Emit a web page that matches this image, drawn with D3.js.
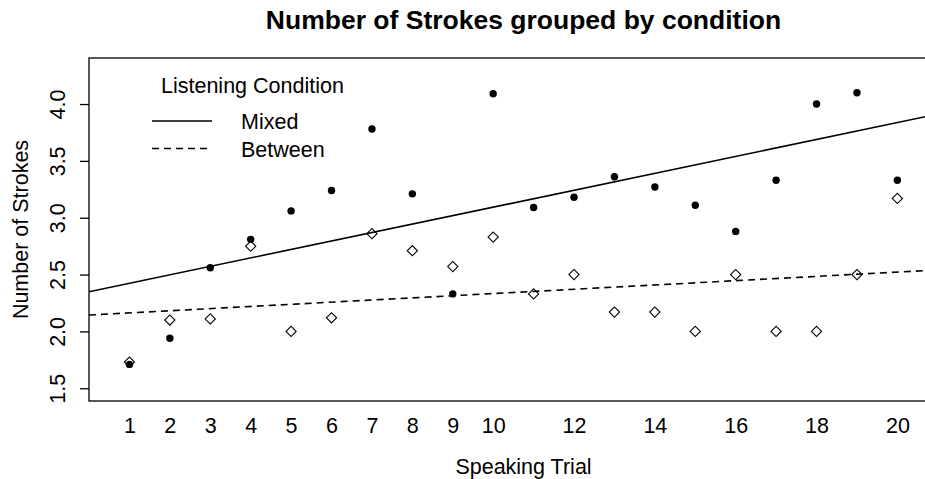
<!DOCTYPE html>
<html>
<head>
<meta charset="utf-8">
<script src="https://cdn.jsdelivr.net/npm/d3@7"></script>
<style>
  body { margin: 0; background: #fff; }
  svg, svg text { font-family: "Liberation Sans", Arimo, Helvetica, Arial, sans-serif; fill: #000; }
</style>
</head>
<body>
<div id="chart"></div>
<script>
// Speaking trials and mean strokes per listening condition
const trials = d3.range(1, 21);
const mixed = [1.71, 1.94, 2.56, 2.81, 3.06, 3.24, 3.78, 3.21, 2.33, 4.09,
               3.09, 3.18, 3.36, 3.27, 3.11, 2.88, 3.33, 4.00, 4.10, 3.33];
const between = [1.73, 2.10, 2.11, 2.75, 2.00, 2.12, 2.86, 2.71, 2.57, 2.83,
                 2.33, 2.50, 2.17, 2.17, 2.00, 2.50, 2.00, 2.00, 2.50, 3.17];
// fitted lines (intercept, slope) as drawn in the chart
const fitIntercepts = [2.349, 2.144];
const fitSlopes = [0.0744, 0.0189];
const xTicks = [1, 2, 3, 4, 5, 6, 7, 8, 9, 10, 12, 14, 16, 18, 20];
const yTicks = [1.5, 2.0, 2.5, 3.0, 3.5, 4.0];
const legendLabels = ["Mixed", "Between"];

const width = 925, height = 479;
const plotL = 89, plotT = 58, plotR = 958, plotB = 401;
const fontStack = '"Liberation Sans", Arimo, Helvetica, Arial, sans-serif';

const svg = d3.select("#chart").append("svg")
    .attr("width", width)
    .attr("height", height)
    .style("font-family", fontStack);

const x = d3.scaleLinear().domain([0, 21.5]).range([plotL, plotR]);
const y = d3.scaleLinear().domain([1.388, 4.405]).range([plotB, plotT]);

svg.append("clipPath").attr("id", "plotClip")
  .append("rect")
    .attr("x", plotL).attr("y", plotT)
    .attr("width", plotR - plotL).attr("height", plotB - plotT);

// Title
svg.append("text")
    .attr("x", (plotL + plotR) / 2)
    .attr("y", 29)
    .attr("text-anchor", "middle")
    .style("font-size", "26.5px")
    .style("font-weight", "bold")
    .text("Number of Strokes grouped by condition");

// Axes
const xAxis = svg.append("g")
    .attr("transform", `translate(0,${plotB})`)
    .call(d3.axisBottom(x).tickValues(xTicks).tickSize(0).tickPadding(17).tickFormat(d3.format("d")));
xAxis.select(".domain").remove();

const yAxis = svg.append("g")
    .attr("transform", `translate(${plotL},0)`)
    .call(d3.axisLeft(y).tickValues(yTicks).tickSize(9).tickFormat(d3.format(".1f")));
yAxis.select(".domain").remove();
yAxis.selectAll("line").attr("stroke", "#000").attr("stroke-width", 1.3);
yAxis.selectAll("text")
    .attr("x", null).attr("dy", null)
    .attr("text-anchor", "middle")
    .attr("transform", "translate(-24,0) rotate(-90)");

svg.selectAll(".tick text")
    .style("font-family", fontStack)
    .style("font-size", "21.5px");

// Axis titles
svg.append("text")
    .attr("x", (plotL + plotR) / 2)
    .attr("y", 474)
    .attr("text-anchor", "middle")
    .style("font-size", "21.5px")
    .text("Speaking Trial");

svg.append("text")
    .attr("transform", `translate(28,${(plotT + plotB) / 2}) rotate(-90)`)
    .attr("text-anchor", "middle")
    .style("font-size", "21.5px")
    .text("Number of Strokes");

// Fitted lines
const plot = svg.append("g").attr("clip-path", "url(#plotClip)");
[mixed, between].forEach((vals, k) => {
    const a = fitIntercepts[k], b = fitSlopes[k];
    const xs = x.domain();
    plot.append("line")
        .attr("x1", x(xs[0])).attr("y1", y(a + b * xs[0]))
        .attr("x2", x(xs[1])).attr("y2", y(a + b * xs[1]))
        .attr("stroke", "#000")
        .attr("stroke-width", 1.6)
        .attr("stroke-dasharray", k === 0 ? null : "7,5");
});

// Points
plot.append("g").selectAll("path")
    .data(trials)
    .enter().append("path")
    .attr("d", d3.symbol(d3.symbolSquare).size(52))
    .attr("transform", (d, i) => `translate(${x(d)},${y(between[i])}) rotate(45)`)
    .attr("fill", "none")
    .attr("stroke", "#000")
    .attr("stroke-width", 1.1);

plot.append("g").selectAll("circle")
    .data(trials)
    .enter().append("circle")
    .attr("cx", d => x(d))
    .attr("cy", (d, i) => y(mixed[i]))
    .attr("r", 3.7)
    .attr("fill", "#000");

// Box
svg.append("rect")
    .attr("x", plotL).attr("y", plotT)
    .attr("width", plotR - plotL).attr("height", plotB - plotT)
    .attr("fill", "none")
    .attr("stroke", "#000")
    .attr("stroke-width", 1.3);

// Legend
const legend = svg.append("g");
legend.append("text")
    .attr("x", 161).attr("y", 93)
    .style("font-size", "21.5px")
    .text("Listening Condition");
legendLabels.forEach((lab, i) => {
    const ly = 121 + i * 27.5;
    legend.append("line")
        .attr("x1", 152).attr("x2", 212)
        .attr("y1", ly).attr("y2", ly)
        .attr("stroke", "#000")
        .attr("stroke-width", 1.6)
        .attr("stroke-dasharray", i === 0 ? null : "7,5");
    legend.append("text")
        .attr("x", 241).attr("y", ly + 8)
        .style("font-size", "21.5px")
        .text(lab);
});
</script>
</body>
</html>
